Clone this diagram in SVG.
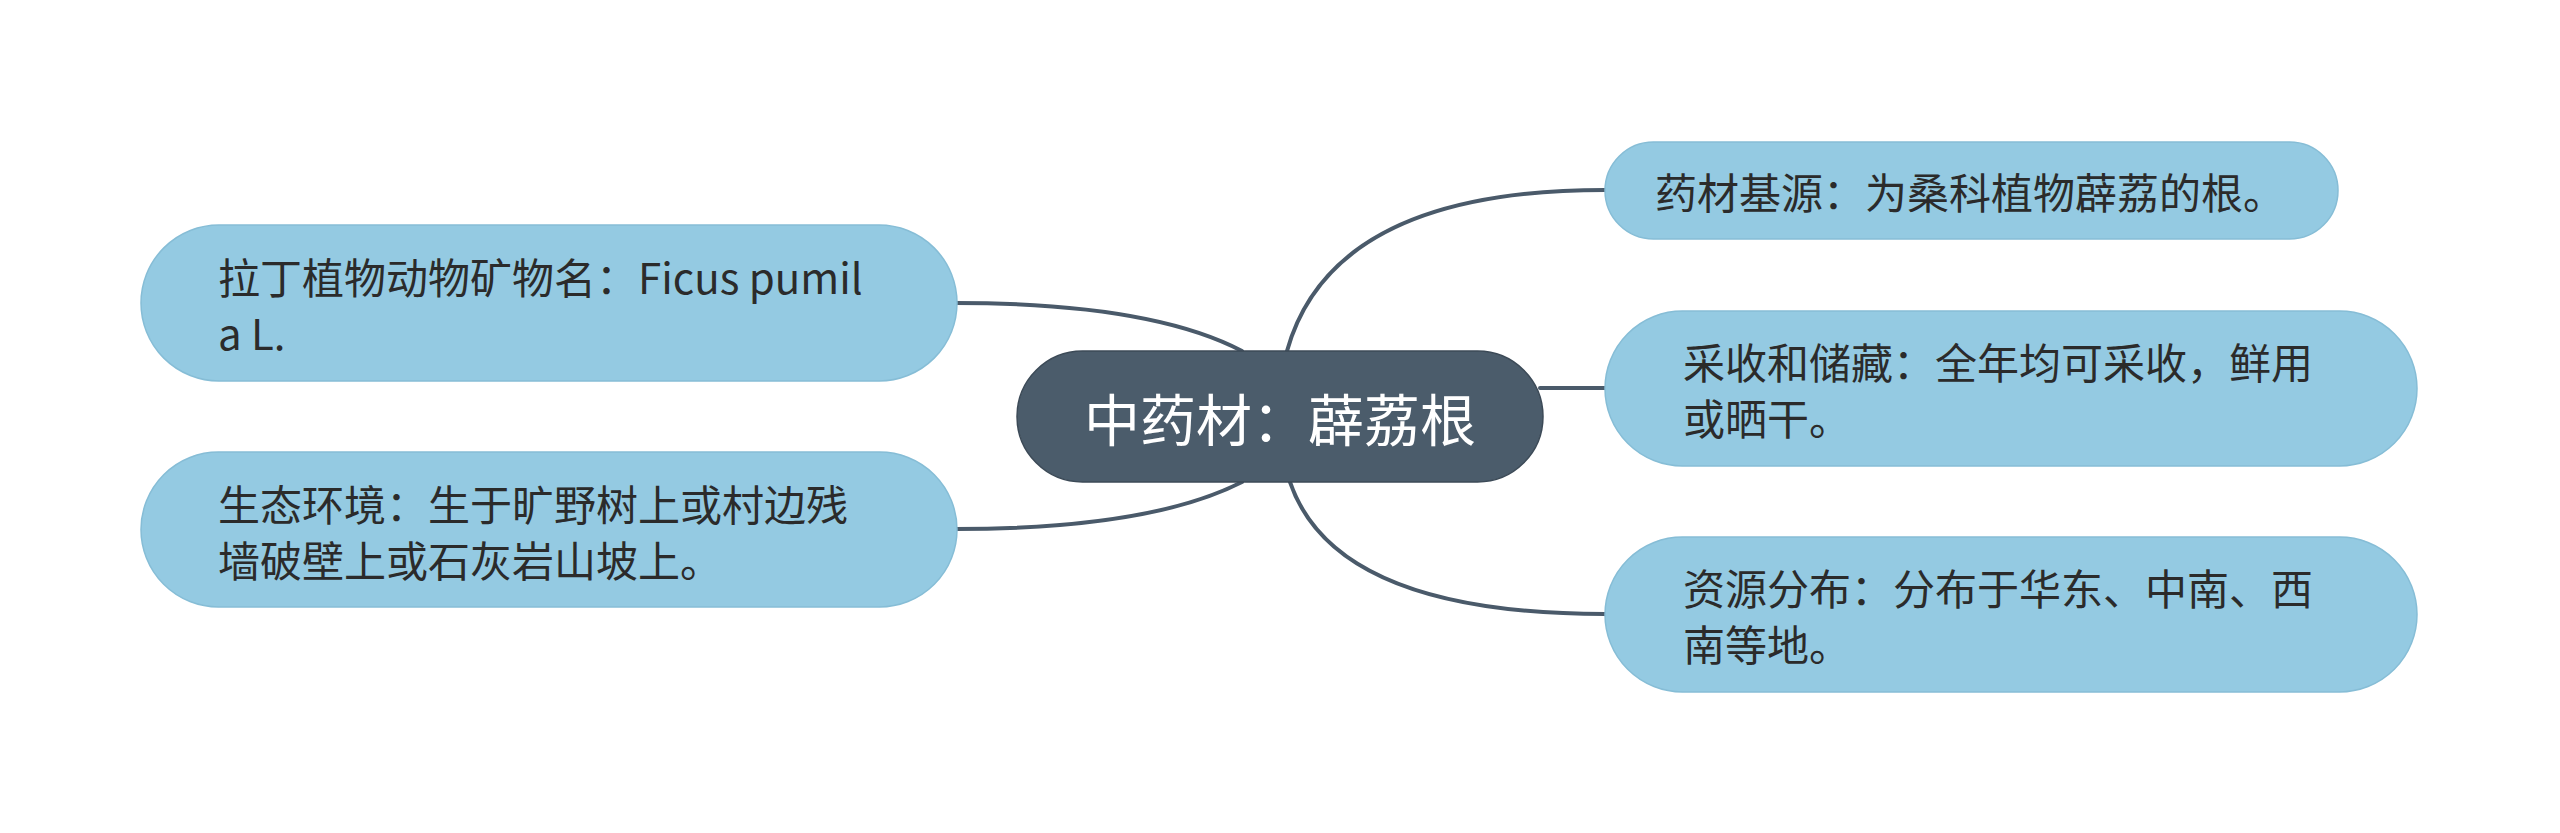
<svg xmlns="http://www.w3.org/2000/svg" width="2560" height="833" viewBox="0 0 2560 833">
  <style>
    .conn { fill: none; stroke: #4A5A6A; stroke-width: 4; stroke-linecap: round; }
    .sub { fill: #94CAE2; stroke: #86BDD6; stroke-width: 1.5; }
    .root { fill: #4B5C6B; stroke: #3C4A57; stroke-width: 1.5; }
    .t { font-family: "Noto Sans CJK SC", "Noto Sans", sans-serif; font-size: 42px; fill: #2B2B2B; dominant-baseline: central; }
    .rt { font-family: "Noto Sans CJK SC", "Noto Sans", sans-serif; font-size: 56px; fill: #FFFFFF; dominant-baseline: central; text-anchor: middle; }
  </style>
  <rect width="2560" height="833" fill="#FFFFFF"/>
  <g id="connectors">
    <path class="conn" d="M 955 303 Q 1150 303 1242 351"/>
    <path class="conn" d="M 955 529 Q 1150 529 1242 482"/>
    <path class="conn" d="M 1287 351 Q 1332 190 1605 190"/>
    <path class="conn" d="M 1540 388 L 1605 388"/>
    <path class="conn" d="M 1290 482 Q 1335 614 1605 614"/>
  </g>
  <g id="root">
    <rect class="root" x="1017" y="351" width="526" height="131" rx="65.5"/>
    <text class="rt" x="1280" y="416.5">中药材：薜荔根</text>
  </g>
  <g id="node-latin">
    <rect class="sub" x="141" y="225" width="816" height="156" rx="78"/>
    <text class="t" x="218" y="275">拉丁植物动物矿物名：Ficus pumil</text>
    <text class="t" x="218" y="331">a L.</text>
  </g>
  <g id="node-habitat">
    <rect class="sub" x="141" y="452" width="816" height="155" rx="77.5"/>
    <text class="t" x="218" y="502">生态环境：生于旷野树上或村边残</text>
    <text class="t" x="218" y="558">墙破壁上或石灰岩山坡上。</text>
  </g>
  <g id="node-source">
    <rect class="sub" x="1605" y="142" width="733" height="97" rx="48.5"/>
    <text class="t" x="1655" y="190.5">药材基源：为桑科植物薜荔的根。</text>
  </g>
  <g id="node-harvest">
    <rect class="sub" x="1605" y="311" width="812" height="155" rx="77.5"/>
    <text class="t" x="1683" y="360.5">采收和储藏：全年均可采收，鲜用</text>
    <text class="t" x="1683" y="416.5">或晒干。</text>
  </g>
  <g id="node-distribution">
    <rect class="sub" x="1605" y="537" width="812" height="155" rx="77.5"/>
    <text class="t" x="1683" y="586.5">资源分布：分布于华东、中南、西</text>
    <text class="t" x="1683" y="642.5">南等地。</text>
  </g>
</svg>
